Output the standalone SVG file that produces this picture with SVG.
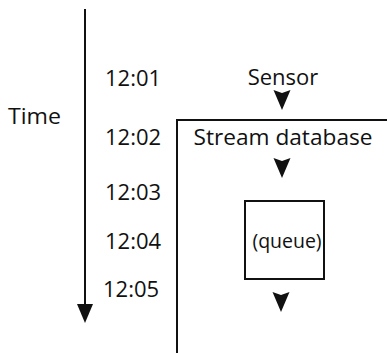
<svg xmlns="http://www.w3.org/2000/svg" width="387" height="353" viewBox="0 0 387 353">
  <style>
    text { font-family: "Open Sans", "Noto Sans", "Liberation Sans", sans-serif; fill: #111; }
    .lbl { font-size: 22px; }
    .small { font-size: 19.5px; }
    .line { stroke: #111; stroke-width: 2; fill: none; }
    .head { fill: #111; stroke: none; }
  </style>
  <defs>
    <!-- notched arrowhead, tip at origin pointing down -->
    <path id="tip" d="M-8.5,-20 L0,-17 L8.5,-20 L0,0 Z"/>
  </defs>
  <rect width="387" height="353" fill="#fff"/>

  <!-- time axis -->
  <g id="time-axis">
    <line class="line" x1="85" y1="9" x2="85" y2="306"/>
    <path class="head" d="M77,304 L93,304 L85,323 Z"/>
    <text class="lbl" x="8" y="124" textLength="53" lengthAdjust="spacingAndGlyphs">Time</text>
  </g>

  <g id="ticks">
    <text class="lbl" x="105" y="86">12:01</text>
    <text class="lbl" x="105" y="145">12:02</text>
    <text class="lbl" x="105" y="200">12:03</text>
    <text class="lbl" x="105" y="249">12:04</text>
    <text class="lbl" x="103" y="297">12:05</text>
  </g>

  <g id="sensor">
    <text class="lbl" x="283" y="85" text-anchor="middle">Sensor</text>
  </g>

  <g id="stream-database">
    <path class="line" d="M177,353 L177,120 L387,120"/>
    <text class="lbl" x="283" y="145" text-anchor="middle" textLength="179" lengthAdjust="spacingAndGlyphs">Stream database</text>
  </g>

  <g id="queue">
    <rect class="line" x="245" y="201" width="79" height="78"/>
    <text class="small" x="287" y="248" text-anchor="middle">(queue)</text>
  </g>

  <g id="connectors">
    <use href="#tip" class="head" x="282" y="110"/>
    <use href="#tip" class="head" x="282" y="178"/>
    <use href="#tip" class="head" x="281" y="312"/>
  </g>
</svg>
